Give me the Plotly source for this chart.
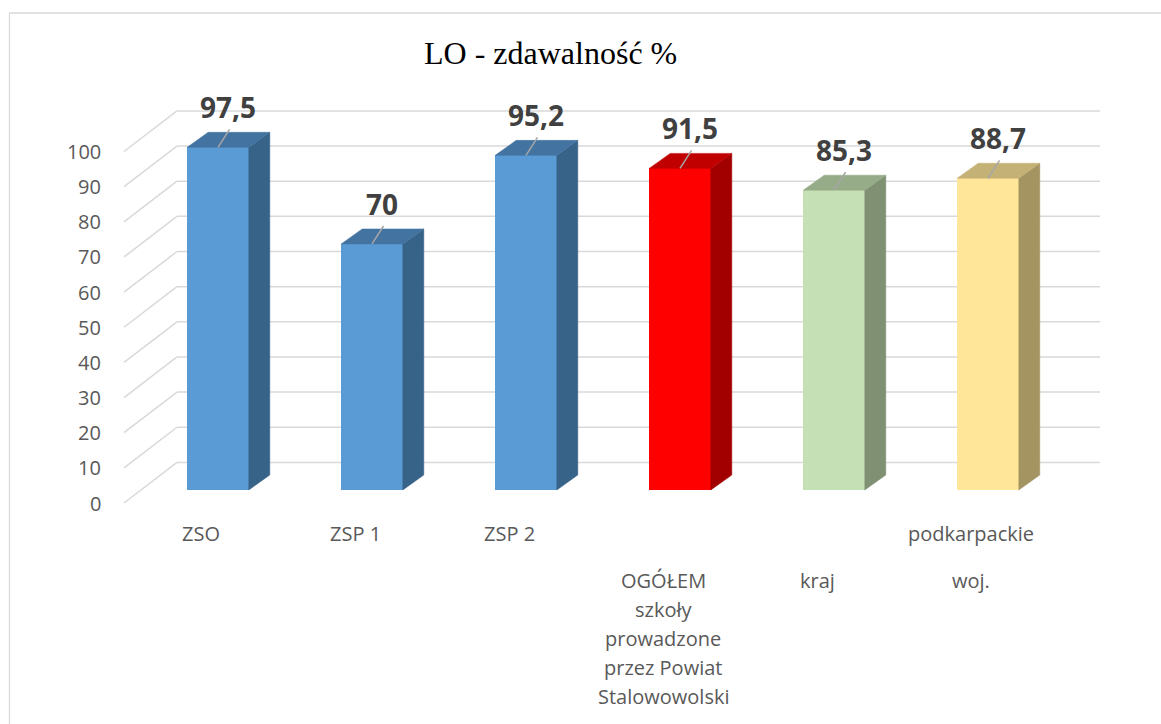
import plotly.graph_objects as go

# ---------------- data ----------------
title_text = "LO - zdawalność %"
categories = ["ZSO", "ZSP 1", "ZSP 2",
              "OGÓŁEM szkoły prowadzone przez Powiat Stalowowolski",
              "kraj", "woj. podkarpackie"]
values = [97.5, 70, 95.2, 91.5, 85.3, 88.7]
value_labels = ["97,5", "70", "95,2", "91,5", "85,3", "88,7"]
label_upper = ["ZSO", "ZSP 1", "ZSP 2", "", "", "podkarpackie"]
label_lower = [[], [], [],
               ["OGÓŁEM", "szkoły", "prowadzone", "przez Powiat", "Stalowowolski"],
               ["kraj"], ["woj."]]
tick_values = [0, 10, 20, 30, 40, 50, 60, 70, 80, 90, 100]
tick_labels = ["0", "10", "20", "30", "40", "50", "60", "70", "80", "90", "100"]

front_colors = ["#5B9BD5", "#5B9BD5", "#5B9BD5", "#FF0000", "#C5E0B4", "#FFE699"]
top_colors = ["#4373A1", "#4373A1", "#4373A1", "#C00000", "#96AB88", "#C4B176"]
side_colors = ["#386388", "#386388", "#386388", "#A20000", "#7F9073", "#A39462"]

# ---------------- geometry / style ----------------
W, H = 1161, 724
X0_PX, X_STEP = 218.0, 154.0       # pixel of category 0, pixels per category
Y0_PX, Y_SCALE = 490.0, 3.515      # pixel of value 0, pixels per unit


def px_x(px):
    return (px - X0_PX) / X_STEP


def px_y(py):
    return (Y0_PX - py) / Y_SCALE


BAR_W = 0.40
DX = 21 / X_STEP
DY = 15 / Y_SCALE
LABEL_SHIFT = -3.7
BACK_SHIFT = 7.85
WALL_FRONT_X = px_x(124)
WALL_BACK_X = px_x(177)
WALL_RIGHT_X = px_x(1100)
TICK_LABEL_X = px_x(103)
GRID_COLOR = "#D9D9D9"
SANS = "Open Sans"

fig = go.Figure()

# back wall gridlines and side-wall diagonals
shapes = []
for t in tick_values:
    shapes.append(dict(type="line", xref="x", yref="y", layer="below",
                       x0=WALL_BACK_X, x1=WALL_RIGHT_X,
                       y0=t + BACK_SHIFT, y1=t + BACK_SHIFT,
                       line=dict(color=GRID_COLOR, width=1.5)))
    shapes.append(dict(type="line", xref="x", yref="y", layer="below",
                       x0=WALL_FRONT_X, x1=WALL_BACK_X,
                       y0=t + LABEL_SHIFT, y1=t + BACK_SHIFT,
                       line=dict(color=GRID_COLOR, width=1.5)))
# chart frame
shapes.append(dict(type="rect", xref="paper", yref="paper",
                   x0=9.5 / W, x1=1.05, y0=-0.05, y1=1 - 13 / H,
                   line=dict(color=GRID_COLOR, width=1.3), fillcolor="rgba(0,0,0,0)"))

xs = list(range(len(values)))

# front faces
fig.add_trace(go.Bar(x=xs, y=values, width=BAR_W,
                     marker=dict(color=front_colors, line=dict(width=0)),
                     hoverinfo="skip", showlegend=False))

# side and top faces
for i, v in enumerate(values):
    l, r = i - BAR_W / 2, i + BAR_W / 2
    fig.add_trace(go.Scatter(
        x=[r, r + DX, r + DX, r, r], y=[0, DY, v + DY, v, 0],
        mode="lines", fill="toself", fillcolor=side_colors[i],
        line=dict(color=side_colors[i], width=0.5),
        hoverinfo="skip", showlegend=False))
    fig.add_trace(go.Scatter(
        x=[l, l + DX, r + DX, r, l], y=[v, v + DY, v + DY, v, v],
        mode="lines", fill="toself", fillcolor=top_colors[i],
        line=dict(color=top_colors[i], width=0.5),
        hoverinfo="skip", showlegend=False))

# leader lines
for i, v in enumerate(values):
    fig.add_trace(go.Scatter(
        x=[i, i + 0.075], y=[v, v + 5.1], mode="lines",
        line=dict(color="#A6A6A6", width=1.5),
        hoverinfo="skip", showlegend=False))

annotations = []
# data labels
for i, (v, lab) in enumerate(zip(values, value_labels)):
    annotations.append(dict(x=i + 0.065, y=v + 11.4, xref="x", yref="y",
                            text=lab, showarrow=False,
                            xanchor="center", yanchor="middle",
                            font=dict(family=SANS, size=28, color="#404040", weight=700)))
# tick labels
for t, lab in zip(tick_values, tick_labels):
    annotations.append(dict(x=TICK_LABEL_X, y=t + LABEL_SHIFT, xref="x", yref="y",
                            text=lab, showarrow=False,
                            xanchor="right", yanchor="middle",
                            font=dict(family=SANS, size=20, color="#595959")))
# category labels
CAT_DX = -0.11
for i in xs:
    if label_upper[i]:
        annotations.append(dict(x=i + CAT_DX, y=px_y(533.5), xref="x", yref="y",
                                text=label_upper[i], showarrow=False,
                                xanchor="center", yanchor="middle",
                                font=dict(family=SANS, size=20, color="#595959")))
    for k, line in enumerate(label_lower[i]):
        annotations.append(dict(x=i + CAT_DX, y=px_y(580 + 29 * k), xref="x", yref="y",
                                text=line, showarrow=False,
                                xanchor="center", yanchor="middle",
                                font=dict(family=SANS, size=20, color="#595959")))
# title
annotations.append(dict(x=550.5 / W, y=1 - 53 / H, xref="paper", yref="paper",
                        text=title_text, showarrow=False,
                        xanchor="center", yanchor="middle",
                        font=dict(family="Liberation Serif", size=32, color="#000000")))

fig.update_layout(
    width=W, height=H,
    margin=dict(l=0, r=0, t=0, b=0),
    paper_bgcolor="white", plot_bgcolor="white",
    xaxis=dict(visible=False, range=[px_x(0), px_x(W)], fixedrange=True),
    yaxis=dict(visible=False, range=[px_y(H), px_y(0)], fixedrange=True),
    shapes=shapes, annotations=annotations,
    showlegend=False, bargap=0,
)

fig.write_html("out.html", config={"displayModeBar": False},
               post_script="document.body.style.margin='0';document.body.style.overflow='hidden';")
